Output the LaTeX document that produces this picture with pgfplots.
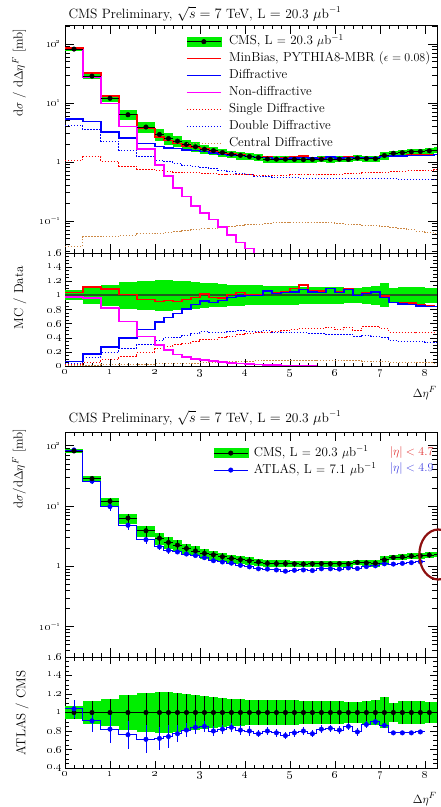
\documentclass[border=0pt]{standalone}
\usepackage{pgfplots}
\pgfplotsset{compat=1.18}
\usepackage{pgfplotstable}

\definecolor{cmsgreen}{HTML}{00EE00}
\definecolor{rootred}{HTML}{FF0000}
\definecolor{rootblue}{HTML}{0000FF}
\definecolor{rootmagenta}{HTML}{FF00FF}
\definecolor{cdorange}{HTML}{CC8844}
\definecolor{unityline}{HTML}{1E5C1E}
\definecolor{ringred}{HTML}{8E1010}
\definecolor{etared}{HTML}{E03030}
\definecolor{etablue}{HTML}{4040E0}

\newcommand{\os}[1]{\oldstylenums{#1}}

% bins: left edge, centre, half width; the last row only closes the steps
\pgfplotstableread{
xl  xc  ex  one cms  ecms mb   diff nd    sd   dd   cd    rmb  rdiff rnd   rsd  rdd  rcd
0.0 0.2 0.2 1   82   0.07 85   5.3  80.4  1.07 4.2  0.037 1.04 0.065 0.98  0.02 0.03 0.002
0.4 0.6 0.2 1   28.5 0.12 32   4.85 27.4  1.22 3.5  0.054 1.12 0.17  0.96  0.05 0.12 0.01
0.8 1.0 0.2 1   12   0.15 13.1 3.24 9.8   1.0  2.25 0.055 1.09 0.27  0.82  0.09 0.19 0.015
1.2 1.4 0.2 1   6.3  0.19 6.36 2.52 3.97  0.85 1.58 0.057 1.01 0.40  0.63  0.13 0.25 0.02
1.6 1.8 0.2 1   3.9  0.21 3.67 2.03 1.64  0.75 1.22 0.06  0.94 0.52  0.42  0.19 0.31 0.025
2.0 2.1 0.1 1   2.92 0.22 2.66 1.81 0.88  0.71 1.07 0.062 0.91 0.62  0.30  0.25 0.36 0.03
2.2 2.3 0.1 1   2.49 0.22 2.32 1.72 0.57  0.69 1.0  0.064 0.93 0.69  0.23  0.28 0.40 0.03
2.4 2.5 0.1 1   2.25 0.21 2.05 1.67 0.36  0.67 0.94 0.066 0.91 0.74  0.16  0.30 0.41 0.035
2.6 2.7 0.1 1   1.98 0.20 1.86 1.60 0.26  0.66 0.88 0.068 0.94 0.81  0.13  0.32 0.43 0.035
2.8 2.9 0.1 1   1.80 0.19 1.75 1.57 0.18  0.65 0.83 0.07  0.97 0.87  0.10  0.34 0.46 0.04
3.0 3.1 0.1 1   1.64 0.18 1.67 1.51 0.136 0.64 0.79 0.073 1.02 0.92  0.083 0.37 0.49 0.045
3.2 3.3 0.1 1   1.55 0.17 1.50 1.40 0.105 0.63 0.76 0.075 0.97 0.90  0.068 0.38 0.48 0.05
3.4 3.5 0.1 1   1.44 0.16 1.38 1.34 0.078 0.62 0.72 0.078 0.96 0.93  0.054 0.40 0.48 0.055
3.6 3.7 0.1 1   1.35 0.15 1.36 1.31 0.057 0.61 0.69 0.08  1.01 0.97  0.042 0.42 0.49 0.06
3.8 3.9 0.1 1   1.29 0.15 1.34 1.28 0.043 0.60 0.64 0.083 1.04 0.99  0.033 0.44 0.50 0.065
4.0 4.1 0.1 1   1.23 0.14 1.24 1.23 0.034 0.60 0.60 0.086 1.01 1.00  0.028 0.46 0.49 0.07
4.2 4.3 0.1 1   1.18 0.14 1.19 1.18 0.024 0.59 0.57 0.088 1.01 1.00  0.020 0.47 0.49 0.075
4.4 4.5 0.1 1   1.12 0.13 1.20 1.19 0.017 0.59 0.56 0.09  1.07 1.06  0.015 0.48 0.50 0.08
4.6 4.7 0.1 1   1.11 0.13 1.15 1.14 0.012 0.59 0.55 0.092 1.04 1.03  0.011 0.49 0.48 0.08
4.8 4.9 0.1 1   1.11 0.13 1.17 1.15 0.009 0.59 0.54 0.094 1.05 1.04  0.008 0.50 0.48 0.085
5.0 5.1 0.1 1   1.10 0.13 1.21 1.16 0.007 0.60 0.54 0.095 1.10 1.05  0.006 0.52 0.47 0.085
5.2 5.3 0.1 1   1.09 0.12 1.25 1.18 0.005 0.60 0.53 0.095 1.15 1.08  0.005 0.53 0.47 0.085
5.4 5.5 0.1 1   1.10 0.12 1.18 1.16 0.004 0.60 0.53 0.094 1.07 1.05  0.004 0.53 0.46 0.085
5.6 5.7 0.1 1   1.11 0.12 1.18 1.15 0.004 0.61 0.53 0.093 1.06 1.04  0.004 0.53 0.46 0.08
5.8 5.9 0.1 1   1.10 0.12 1.21 1.21 nan   0.61 0.53 0.092 1.10 1.10  nan   0.55 0.45 0.08
6.0 6.1 0.1 1   1.11 0.12 1.16 1.16 nan   0.62 0.52 0.09  1.05 1.04  nan   0.51 0.45 0.08
6.2 6.3 0.1 1   1.10 0.11 1.21 1.19 nan   0.63 0.52 0.088 1.10 1.08  nan   0.55 0.45 0.075
6.4 6.5 0.1 1   1.16 0.11 1.16 1.16 nan   0.64 0.52 0.086 1.00 1.00  nan   0.50 0.42 0.075
6.6 6.7 0.1 1   1.14 0.12 1.19 1.17 nan   0.65 0.52 0.084 1.04 1.03  nan   0.56 0.43 0.07
6.8 6.9 0.1 1   1.13 0.13 1.19 1.19 nan   0.66 0.52 0.082 1.05 1.05  nan   0.56 0.42 0.07
7.0 7.1 0.1 1   1.28 0.17 1.27 1.24 nan   0.67 0.52 0.079 0.99 0.97  nan   0.53 0.41 0.065
7.2 7.3 0.1 1   1.40 0.10 1.26 1.26 nan   0.68 0.52 0.076 0.90 0.90  nan   0.48 0.36 0.055
7.4 7.5 0.1 1   1.43 0.12 1.27 1.26 nan   0.69 0.51 0.073 0.89 0.88  nan   0.48 0.35 0.05
7.6 7.7 0.1 1   1.48 0.12 1.32 1.29 nan   0.70 0.51 0.07  0.89 0.87  nan   0.48 0.35 0.05
7.8 7.9 0.1 1   1.50 0.12 1.31 1.28 nan   0.71 0.51 0.067 0.87 0.85  nan   0.47 0.35 0.045
8.0 8.1 0.1 1   1.54 0.11 1.30 1.29 nan   0.72 0.51 0.064 0.85 0.84  nan   0.47 0.33 0.045
8.2 8.3 0.1 1   1.58 0.11 1.33 1.33 nan   0.74 0.51 0.061 0.84 0.84  nan   0.47 0.33 0.04
8.4 nan 0.1 1   1.58 0.11 1.33 1.33 nan   0.74 0.51 0.061 0.84 0.84  nan   0.47 0.33 0.04
}\cmstab

\pgfplotstableread{
xl  xc  atl  ratl eatl
0.0 0.2 85   1.04 0.10
0.4 0.6 25.9 0.91 0.12
0.8 1.0 9.8  0.82 0.15
1.2 1.4 4.8  0.76 0.15
1.6 1.8 2.77 0.71 0.15
2.0 2.1 2.10 0.72 0.12
2.2 2.3 1.84 0.74 0.12
2.4 2.5 1.73 0.77 0.09
2.6 2.7 1.60 0.81 0.08
2.8 2.9 1.51 0.84 0.07
3.0 3.1 1.39 0.85 0.06
3.2 3.3 1.24 0.80 0.05
3.4 3.5 1.18 0.82 0.05
3.6 3.7 1.13 0.84 0.05
3.8 3.9 1.04 0.81 0.05
4.0 4.1 0.98 0.80 0.05
4.2 4.3 0.91 0.77 0.04
4.4 4.5 0.90 0.80 0.04
4.6 4.7 0.87 0.78 0.04
4.8 4.9 0.83 0.75 0.04
5.0 5.1 0.86 0.78 0.04
5.2 5.3 0.87 0.80 0.04
5.4 5.5 0.85 0.77 0.04
5.6 5.7 0.91 0.82 0.04
5.8 5.9 0.91 0.83 0.04
6.0 6.1 0.90 0.81 0.04
6.2 6.3 0.94 0.85 0.04
6.4 6.5 0.92 0.79 0.04
6.6 6.7 0.99 0.87 0.04
6.8 6.9 1.02 0.90 0.03
7.0 7.1 1.10 0.86 0.03
7.2 7.3 1.09 0.78 0.02
7.4 7.5 1.12 0.78 0.02
7.6 7.7 1.15 0.78 0.02
7.8 7.9 1.19 0.79 0.02
8.0 nan 1.19 0.79 0.02
}\atltab

\pgfplotsset{
  panel/.style={
    scale only axis, width=372pt, xmin=0, xmax=8.27,
    xtick={0,1,2,3,4,5,6,7,8}, minor x tick num=4,
    tick align=inside,
    axis line style={line width=0.6pt},
    every tick/.append style={black, line width=0.5pt},
    tick label style={font=\fontsize{10.5}{12}\selectfont},
  },
  logticks/.style={
    xticklabels={},
    ytick={0.1,1,10,100},
    yticklabels={\os{10}\textsuperscript{$-$\os{1}},\os{1},\os{10}\textsuperscript{\os{1}},\os{10}\textsuperscript{\os{2}}},
    minor ytick={0.03,0.04,0.05,0.06,0.07,0.08,0.09,0.2,0.3,0.4,0.5,0.6,0.7,0.8,0.9,2,3,4,5,6,7,8,9,20,30,40,50,60,70,80,90,200},
    major tick length=9pt, minor tick length=4.5pt,
    legend cell align=left,
  },
  ratioticks/.style={major tick length=7pt, minor tick length=3.5pt, minor y tick num=3,
    xticklabels={\os{0},\os{1},\os{2},\os{3},\os{4},\os{5},\os{6},\os{7},\os{8}}},
  histo/.style={const plot, mark=none, line width=1.5pt, forget plot},
  histdots/.style={const plot, mark=none, line width=1pt, dash pattern=on 1.4pt off 1.6pt, forget plot},
}

\begin{document}
\begin{tikzpicture}[font=\fontsize{13}{16}\selectfont]

% ---------------- upper figure ----------------
\node[anchor=base west, font=\fontsize{13.5}{16}\selectfont] at (65pt,-18pt) {CMS Preliminary, $\sqrt{s} = 7$ TeV, L $=$ 20.3 $\mu$b$^{-1}$};

\begin{axis}[ymode=log, panel, logticks, at={(65pt,-25pt)}, anchor=north west, height=228pt,
  ymin=0.0284, ymax=210,
  legend style={at={(rel axis cs:0.325,0.965)}, anchor=north west, draw=none, fill=none,
    inner sep=0pt, row sep=0pt, font=\fontsize{13}{16}\selectfont,
    nodes={inner sep=2pt, text height=9.5pt, text depth=3.5pt}}]
  \addplot[draw=none, mark=none, forget plot, restrict x to domain=0:2,
    error bars/.cd, y dir=both, y explicit relative, error mark=none,
    error bar style={draw=cmsgreen, line width=18pt}]
    table[x=xc, y=cms, y error=ecms] {\cmstab};
  \addplot[draw=none, mark=none, forget plot, restrict x to domain=2:8.6,
    error bars/.cd, y dir=both, y explicit relative, error mark=none,
    error bar style={draw=cmsgreen, line width=9pt}]
    table[x=xc, y=cms, y error=ecms] {\cmstab};
  \addplot[histdots, cdorange] table[x=xl, y=cd] {\cmstab};
  \addplot[histdots, rootblue] table[x=xl, y=dd] {\cmstab};
  \addplot[histdots, rootred] table[x=xl, y=sd] {\cmstab};
  \addplot[histo, rootred] table[x=xl, y=mb] {\cmstab};
  \addplot[histo, rootblue] table[x=xl, y=diff] {\cmstab};
  \addplot[histo, rootmagenta] table[x=xl, y=nd] {\cmstab};
  \addplot[black, only marks, mark=*, mark size=2.3pt, forget plot,
    error bars/.cd, x dir=both, x explicit, error mark=none,
    error bar style={black, line width=0.8pt}]
    table[x=xc, y=cms, x error=ex] {\cmstab};

  \addlegendimage{legend image code/.code={
    \fill[cmsgreen] (0pt,-4.5pt) rectangle (34pt,4.5pt);
    \draw[black, line width=0.8pt] (0pt,0pt) -- (34pt,0pt);
    \fill[black] (17pt,0pt) circle (2.3pt); \path (40pt,0pt);}}
  \addlegendentry{CMS, L $=$ 20.3 $\mu$b$^{-1}$}
  \addlegendimage{legend image code/.code={\draw[rootred, line width=1.5pt] (0pt,0pt) -- (34pt,0pt); \path (40pt,0pt);}}
  \addlegendentry{MinBias, PYTHIA8-MBR ($\epsilon = 0.08$)}
  \addlegendimage{legend image code/.code={\draw[rootblue, line width=1.5pt] (0pt,0pt) -- (34pt,0pt); \path (40pt,0pt);}}
  \addlegendentry{Diffractive}
  \addlegendimage{legend image code/.code={\draw[rootmagenta, line width=1.5pt] (0pt,0pt) -- (34pt,0pt); \path (40pt,0pt);}}
  \addlegendentry{Non-diffractive}
  \addlegendimage{legend image code/.code={\draw[rootred, line width=1pt, dash pattern=on 1.4pt off 1.6pt] (0pt,0pt) -- (34pt,0pt); \path (40pt,0pt);}}
  \addlegendentry{Single Diffractive}
  \addlegendimage{legend image code/.code={\draw[rootblue, line width=1pt, dash pattern=on 1.4pt off 1.6pt] (0pt,0pt) -- (34pt,0pt); \path (40pt,0pt);}}
  \addlegendentry{Double Diffractive}
  \addlegendimage{legend image code/.code={\draw[cdorange, line width=1pt, dash pattern=on 1.4pt off 1.6pt] (0pt,0pt) -- (34pt,0pt); \path (40pt,0pt);}}
  \addlegendentry{Central Diffractive}
\end{axis}

\begin{axis}[panel, ratioticks, at={(65pt,-253pt)}, anchor=north west, height=113pt,
  ymin=0, ymax=1.6,
  ytick={0,0.2,0.4,0.6,0.8,1,1.2,1.4,1.6},
  yticklabels={\os{0},\os{0}.\os{2},\os{0}.\os{4},\os{0}.\os{6},\os{0}.\os{8},\os{1},\os{1}.\os{2},\os{1}.\os{4},\os{1}.\os{6}}]
  \addplot[draw=none, mark=none, forget plot, restrict x to domain=0:2,
    error bars/.cd, y dir=both, y explicit relative, error mark=none,
    error bar style={draw=cmsgreen, line width=18pt}]
    table[x=xc, y=one, y error=ecms] {\cmstab};
  \addplot[draw=none, mark=none, forget plot, restrict x to domain=2:8.6,
    error bars/.cd, y dir=both, y explicit relative, error mark=none,
    error bar style={draw=cmsgreen, line width=9pt}]
    table[x=xc, y=one, y error=ecms] {\cmstab};
  \addplot[unityline, line width=1.8pt, mark=none, forget plot] coordinates {(0,1) (8.4,1)};
  \addplot[histdots, cdorange] table[x=xl, y=rcd] {\cmstab};
  \addplot[histdots, rootblue] table[x=xl, y=rdd] {\cmstab};
  \addplot[histdots, rootred] table[x=xl, y=rsd] {\cmstab};
  \addplot[histo, rootred] table[x=xl, y=rmb] {\cmstab};
  \addplot[histo, rootblue] table[x=xl, y=rdiff] {\cmstab};
  \addplot[histo, rootmagenta] table[x=xl, y=rnd] {\cmstab};
\end{axis}

\node[rotate=90, anchor=east] at (19pt,-25pt) {d$\sigma$ / d$\Delta\eta^{F}$ [mb]};
\node[rotate=90, anchor=east] at (20pt,-263pt) {MC / Data};
\node[anchor=base east] at (440pt,-397pt) {$\Delta\eta^{F}$};

% ---------------- lower figure ----------------
\node[anchor=base west, font=\fontsize{13.5}{16}\selectfont] at (65pt,-422pt) {CMS Preliminary, $\sqrt{s} = 7$ TeV, L $=$ 20.3 $\mu$b$^{-1}$};

\begin{axis}[ymode=log, panel, logticks, at={(65pt,-432pt)}, anchor=north west, height=225pt,
  ymin=0.0313, ymax=169,
  legend style={at={(rel axis cs:0.398,0.945)}, anchor=north west, draw=none, fill=none,
    inner sep=0pt, row sep=0pt, font=\fontsize{13}{16}\selectfont,
    nodes={inner sep=2pt, text height=9.5pt, text depth=3.5pt}}]
  \addplot[draw=none, mark=none, forget plot, restrict x to domain=0:2,
    error bars/.cd, y dir=both, y explicit relative, error mark=none,
    error bar style={draw=cmsgreen, line width=18pt}]
    table[x=xc, y=cms, y error=ecms] {\cmstab};
  \addplot[draw=none, mark=none, forget plot, restrict x to domain=2:8.6,
    error bars/.cd, y dir=both, y explicit relative, error mark=none,
    error bar style={draw=cmsgreen, line width=9pt}]
    table[x=xc, y=cms, y error=ecms] {\cmstab};
  \addplot[const plot, mark=none, rootblue, line width=1pt, forget plot] table[x=xl, y=atl] {\atltab};
  \addplot[rootblue, only marks, mark=*, mark size=2.3pt, forget plot,
    error bars/.cd, y dir=both, y explicit relative, error mark=none,
    error bar style={rootblue, line width=0.8pt}]
    table[x=xc, y=atl, y error=eatl] {\atltab};
  \addplot[black, only marks, mark=*, mark size=2.3pt, forget plot,
    error bars/.cd, x dir=both, x explicit, y dir=both, y explicit relative, error mark=none,
    error bar style={black, line width=0.8pt}]
    table[x=xc, y=cms, x error=ex, y error=ecms] {\cmstab};
  \coordinate (ring) at (axis cs:8.3,1.57);

  \addlegendimage{legend image code/.code={
    \fill[cmsgreen] (0pt,-4.5pt) rectangle (34pt,4.5pt);
    \draw[black, line width=0.8pt] (0pt,0pt) -- (34pt,0pt);
    \fill[black] (17pt,0pt) circle (2.3pt); \path (38pt,0pt);}}
  \addlegendentry{CMS, L $=$ 20.3 $\mu$b$^{-1}$}
  \addlegendimage{legend image code/.code={
    \draw[rootblue, line width=1pt] (0pt,0pt) -- (34pt,0pt);
    \fill[rootblue] (17pt,0pt) circle (2.3pt); \path (38pt,0pt);}}
  \addlegendentry{ATLAS, L $=$ 7.1 $\mu$b$^{-1}$}

  \node[etared, anchor=east] at (rel axis cs:1,0.907) {$|\eta| < 4.7$};
  \node[etablue, anchor=east] at (rel axis cs:1,0.836) {$|\eta| < 4.9$};
\end{axis}
\draw[ringred, line width=2.2pt] (ring) ellipse [x radius=19pt, y radius=25pt];

\begin{axis}[panel, ratioticks, at={(65pt,-657pt)}, anchor=north west, height=111pt,
  ymin=0.4, ymax=1.6,
  ytick={0.4,0.6,0.8,1,1.2,1.4,1.6},
  yticklabels={\os{0}.\os{4},\os{0}.\os{6},\os{0}.\os{8},\os{1},\os{1}.\os{2},\os{1}.\os{4},\os{1}.\os{6}}]
  \addplot[draw=none, mark=none, forget plot, restrict x to domain=0:2,
    error bars/.cd, y dir=both, y explicit relative, error mark=none,
    error bar style={draw=cmsgreen, line width=18pt}]
    table[x=xc, y=one, y error=ecms] {\cmstab};
  \addplot[draw=none, mark=none, forget plot, restrict x to domain=2:8.6,
    error bars/.cd, y dir=both, y explicit relative, error mark=none,
    error bar style={draw=cmsgreen, line width=9pt}]
    table[x=xc, y=one, y error=ecms] {\cmstab};
  \addplot[black, line width=0.8pt, mark=none, forget plot] coordinates {(0,1) (8.4,1)};
  \addplot[black, only marks, mark=*, mark size=2.3pt, forget plot,
    error bars/.cd, y dir=both, y explicit relative, error mark=none,
    error bar style={black, line width=0.8pt}]
    table[x=xc, y=one, y error=ecms] {\cmstab};
  \addplot[const plot, mark=none, rootblue, line width=1pt, forget plot] table[x=xl, y=ratl] {\atltab};
  \addplot[rootblue, only marks, mark=*, mark size=2.3pt, forget plot,
    error bars/.cd, y dir=both, y explicit, error mark=none,
    error bar style={rootblue, line width=0.8pt}]
    table[x=xc, y=ratl, y error=eatl] {\atltab};
\end{axis}

\node[rotate=90, anchor=east] at (19pt,-425pt) {d$\sigma$/d$\Delta\eta^{F}$ [mb]};
\node[rotate=90, anchor=east] at (22pt,-667pt) {ATLAS / CMS};
\node[anchor=base east] at (440pt,-803pt) {$\Delta\eta^{F}$};

\pgfresetboundingbox
\path[use as bounding box] (0pt,0pt) rectangle (440pt,-807pt);
\end{tikzpicture}
\end{document}
